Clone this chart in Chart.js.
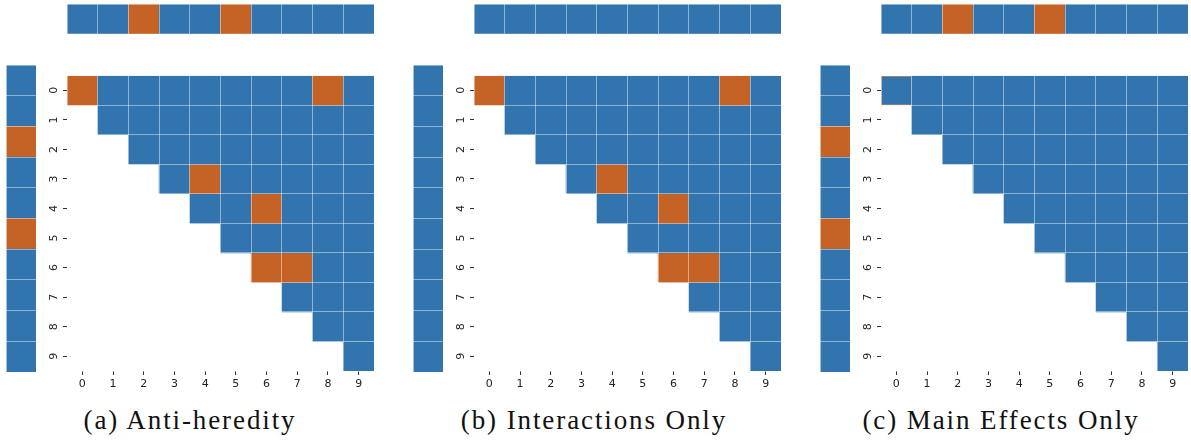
<!DOCTYPE html>
<html>
<head>
<meta charset="utf-8">
<script src="https://cdn.jsdelivr.net/npm/chart.js@4.4.0/dist/chart.umd.min.js"></script>
<style>
  body { margin: 0; background: #fff; width: 1191px; height: 441px; position: relative; overflow: hidden; }
  canvas { position: absolute; }
  .cap { position: absolute; top: 405px; width: 420px; text-align: center;
         font-family: "Liberation Serif", serif; font-size: 27px; letter-spacing: 1.9px; color: #111; }
</style>
</head>
<body>
<div id="root"></div>
<script>
// tick labels (rows and columns of the interaction matrix)
const idx = ['0', '1', '2', '3', '4', '5', '6', '7', '8', '9'];

// 0 = blue, 1 = orange, 2 = blue with orange edge
const antiTop  = [0, 0, 1, 0, 0, 1, 0, 0, 0, 0];
const antiLeft = [0, 0, 1, 0, 0, 1, 0, 0, 0, 0];
const antiGrid = [
  [1, 0, 0, 0, 0, 0, 0, 0, 1, 0],
  [0, 0, 0, 0, 0, 0, 0, 0, 0, 0],
  [0, 0, 0, 0, 0, 0, 0, 0, 0, 0],
  [0, 0, 0, 0, 1, 0, 0, 0, 0, 0],
  [0, 0, 0, 0, 0, 0, 1, 0, 0, 0],
  [0, 0, 0, 0, 0, 0, 0, 0, 0, 0],
  [0, 0, 0, 0, 0, 0, 1, 1, 0, 0],
  [0, 0, 0, 0, 0, 0, 0, 0, 0, 0],
  [0, 0, 0, 0, 0, 0, 0, 0, 0, 0],
  [0, 0, 0, 0, 0, 0, 0, 0, 0, 0]
];

const interTop  = [0, 0, 0, 0, 0, 0, 0, 0, 0, 0];
const interLeft = [0, 0, 0, 0, 0, 0, 0, 0, 0, 0];
const interGrid = [
  [1, 0, 0, 0, 0, 0, 0, 0, 1, 0],
  [0, 0, 0, 0, 0, 0, 0, 0, 0, 0],
  [0, 0, 0, 0, 0, 0, 0, 0, 0, 0],
  [0, 0, 0, 0, 1, 0, 0, 0, 0, 0],
  [0, 0, 0, 0, 0, 0, 1, 0, 0, 0],
  [0, 0, 0, 0, 0, 0, 0, 0, 0, 0],
  [0, 0, 0, 0, 0, 0, 1, 1, 0, 0],
  [0, 0, 0, 0, 0, 0, 0, 0, 0, 0],
  [0, 0, 0, 0, 0, 0, 0, 0, 0, 0],
  [0, 0, 0, 0, 0, 0, 0, 0, 0, 0]
];

const mainTop  = [0, 0, 1, 0, 0, 1, 0, 0, 0, 0];
const mainLeft = [0, 0, 1, 0, 0, 1, 0, 0, 0, 0];
const mainGrid = [
  [2, 0, 0, 0, 0, 0, 0, 0, 0, 0],
  [0, 0, 0, 0, 0, 0, 0, 0, 0, 0],
  [0, 0, 0, 0, 0, 0, 0, 0, 0, 0],
  [0, 0, 0, 0, 0, 0, 0, 0, 0, 0],
  [0, 0, 0, 0, 0, 0, 0, 0, 0, 0],
  [0, 0, 0, 0, 0, 0, 0, 0, 0, 0],
  [0, 0, 0, 0, 0, 0, 0, 0, 0, 0],
  [0, 0, 0, 0, 0, 0, 0, 0, 0, 0],
  [0, 0, 0, 0, 0, 0, 0, 0, 0, 0],
  [0, 0, 0, 0, 0, 0, 0, 0, 0, 0]
];

const captions = ['(a) Anti-heredity', '(b) Interactions Only', '(c) Main Effects Only'];

const BLUE = '#3274ad';
const ORANGE = '#c56326';
const EDGE = '#c98a5e';
const SEP = 'rgba(255,255,255,0.45)';
const tickFont = { family: 'DejaVu Sans', size: 11 };

const fill = v => v === 1 ? ORANGE : BLUE;

// invisible axis that only draws the white cell separators on top of the bars
function sepAxis(type, extra) {
  return Object.assign({
    type: type,
    display: true,
    border: { display: false },
    ticks: { display: false, stepSize: 1 },
    grid: { color: SEP, lineWidth: 1, drawTicks: false, offset: type === 'category', z: 1 },
    afterFit: a => { if (a.isHorizontal()) a.height = 0; else a.width = 0; }
  }, extra);
}

const baseOpts = {
  responsive: false,
  animation: false,
  devicePixelRatio: 1,
  plugins: { legend: { display: false }, tooltip: { enabled: false } }
};

function addCanvas(x, y, w, h) {
  const c = document.createElement('canvas');
  c.width = w; c.height = h;
  c.style.left = x + 'px'; c.style.top = y + 'px';
  c.style.width = w + 'px'; c.style.height = h + 'px';
  document.getElementById('root').appendChild(c);
  return c;
}

function topStrip(x, y, vals) {
  new Chart(addCanvas(x - 1, y - 1, 309, 32), {
    type: 'bar',
    data: {
      labels: idx,
      datasets: [{
        data: idx.map(() => [0, 1]),
        backgroundColor: vals.map(fill),
        barPercentage: 1, categoryPercentage: 1, borderWidth: 0
      }]
    },
    options: Object.assign({}, baseOpts, {
      layout: { padding: 1 },
      scales: {
        x: sepAxis('category', { offset: true }),
        y: sepAxis('linear', { min: 0, max: 1 })
      }
    })
  });
}

function leftStrip(x, y, vals) {
  new Chart(addCanvas(x - 1, y - 1, 32, 309), {
    type: 'bar',
    data: {
      labels: idx,
      datasets: [{
        data: idx.map(() => [0, 1]),
        backgroundColor: vals.map(fill),
        barPercentage: 1, categoryPercentage: 1, borderWidth: 0
      }]
    },
    options: Object.assign({}, baseOpts, {
      indexAxis: 'y',
      layout: { padding: 1 },
      scales: {
        y: sepAxis('category', { offset: true }),
        x: sepAxis('linear', { min: 0, max: 1 })
      }
    })
  });
}

function heatmap(x, y, grid) {
  const datasets = grid.map((row, r) => ({
    data: idx.map((_, c) => c >= r ? [r, r + 1] : null),
    backgroundColor: row.map(fill),
    borderColor: row.map(v => v === 2 ? EDGE : 'rgba(0,0,0,0)'),
    borderWidth: row.map(v => v === 2 ? 1 : 0),
    borderSkipped: false,
    grouped: false,
    barPercentage: 1,
    categoryPercentage: 1,
    xAxisID: 'x',
    yAxisID: 'y'
  }));
  new Chart(addCanvas(x - 30, y - 1, 338, 335), {
    type: 'bar',
    data: { labels: idx, datasets: datasets },
    options: Object.assign({}, baseOpts, {
      layout: { padding: { top: 1, right: 1, left: 0, bottom: 0 } },
      scales: {
        x: sepAxis('category', { offset: true, position: 'top' }),
        y: sepAxis('linear', { min: 0, max: 10, reverse: true, position: 'right' }),
        xl: {
          type: 'category', labels: idx, offset: true, position: 'bottom',
          border: { display: false },
          grid: { drawOnChartArea: false, offset: false, drawTicks: true, tickLength: 4, color: '#333' },
          ticks: { font: tickFont, color: '#222', padding: 3, maxRotation: 0 },
          afterFit: a => { a.height = 28; }
        },
        yl: {
          type: 'category', labels: idx, offset: true, position: 'left',
          border: { display: false },
          grid: { drawOnChartArea: false, offset: false, drawTicks: true, tickLength: 4, color: '#333' },
          ticks: { font: tickFont, color: '#222', padding: 5, minRotation: 90, maxRotation: 90, crossAlign: 'center' },
          afterFit: a => { a.width = 30; }
        }
      }
    })
  });
}

const panels = [
  { dx: 0,   top: antiTop,  left: antiLeft,  grid: antiGrid,  cx: 190 },
  { dx: 407, top: interTop, left: interLeft, grid: interGrid, cx: 594 },
  { dx: 814, top: mainTop,  left: mainLeft,  grid: mainGrid,  cx: 1001 }
];

panels.forEach((p, i) => {
  topStrip(67 + p.dx, 4, p.top);
  leftStrip(6 + p.dx, 65, p.left);
  heatmap(67 + p.dx, 65, p.grid);
  const d = document.createElement('div');
  d.className = 'cap';
  d.style.left = (p.cx - 210) + 'px';
  d.textContent = captions[i];
  document.getElementById('root').appendChild(d);
});
</script>
</body>
</html>
